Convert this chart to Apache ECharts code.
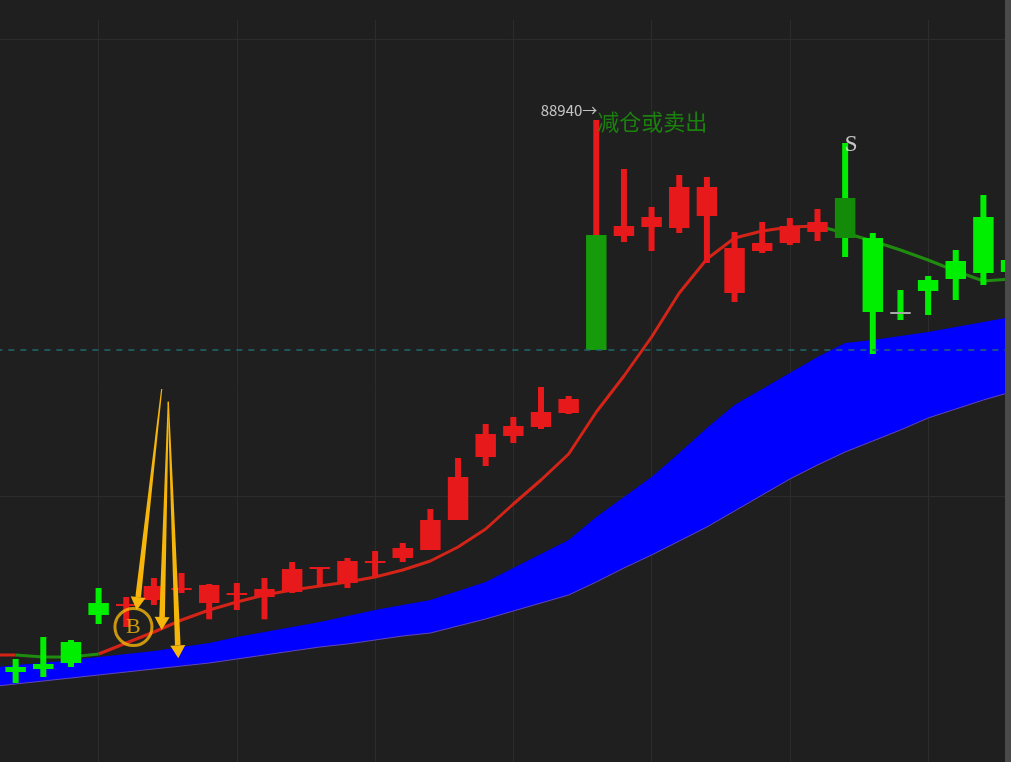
<!DOCTYPE html>
<html><head><meta charset="utf-8">
<script src="https://cdn.jsdelivr.net/npm/echarts@6/dist/echarts.min.js"></script>
<style>html,body{margin:0;padding:0;background:#1f1f1f;}#c{width:1011px;height:762px;}</style>
</head><body><div id="c"></div>
<script>
// ---- data (prices) ----
// visible candles, index 0..36
const opens  = [72530,72620,73280,74450,74360,74540,74840,74450,74690,74630,74780,75470,75050,75650,75800,76040,76940,78830,79460,79730,80150,82040,85460,85730,85700,86060,83750,85010,85250,85580,86600,85400,83150,84140,84710,86030,84740];
const closes = [72380,72470,72650,74090,74420,74960,74900,74990,74750,74870,75470,75530,75710,75710,76100,76940,78230,79520,79760,80180,80570,85490,85760,86030,86930,86930,85100,85250,85760,85880,85400,83180,83150,83810,84170,84350,84380];
const lows   = [72050,72230,72530,73820,73730,74390,74750,73960,74240,73960,74750,74990,74900,75260,75680,76040,76940,78560,79250,79670,80120,82040,85280,85010,85550,84650,83480,84950,85190,85310,84830,81920,82940,83090,83540,83990,83990];
const highs  = [72770,73430,73340,74900,74630,75200,75350,75020,75050,75200,75680,75530,75800,76010,76250,77270,78800,79820,80030,80930,80660,88940,87470,86330,87290,87230,85580,85880,86000,86270,88250,85550,83840,84260,85040,86690,84890];
// candle state: R = rising signal, G = falling, X = big signal bar, S = sell bar, D = doji
const states = ['G','G','G','G','R','R','R','R','R','R','R','R','R','R','R','R','R','R','R','R','R','X','R','R','R','R','R','R','R','R','S','G','D','G','G','G','G'];
// indicator lines, candle index -1..37
const trend     = [72890,72890,72830,72830,72920,73250,73580,73940,74240,74480,74690,74840,74960,75080,75230,75440,75710,76130,76670,77420,78140,78920,80180,81260,82430,83750,84770,85400,85610,85730,85760,85550,85310,85040,84740,84410,84110,84170,84200];
const trendGreenSegments = [[0,3],[29,37]]; // candle-index ranges where the trend line is green
const bandUpper = [72500,72590,72650,72740,72830,72920,73010,73130,73250,73430,73580,73730,73880,74060,74240,74390,74540,74810,75080,75500,75920,76340,77030,77630,78230,78950,79700,80390,80870,81350,81830,82250,82340,82460,82580,82730,82880,83030,83150];
const bandLower = [71930,72020,72110,72200,72290,72380,72470,72560,72650,72770,72890,73010,73130,73220,73340,73460,73550,73760,73970,74210,74450,74690,75080,75500,75890,76310,76730,77210,77690,78170,78590,78980,79310,79640,80000,80270,80540,80780,80990];
const alertLevel = 82040;
// annotations (x in candle-index units)
const buyMark = [4.26, 73730];
const arrows = [[5.282,80870,4.378,74240],[5.521,80490,5.282,73640],[5.521,80490,5.882,72790]];
const signalBar = 21, sellBar = 30;
const signalText = '减仓或卖出', sellText = 'S', buyText = 'B';

// ---- build ----
const PAD = 2; // hidden categories before first candle
const NCAT = 41;
const categories = Array.from({length: NCAT}, (_, k) => String(k - PAD));
function padLine(arr) { // arr covers candle index -1..37
  const out = new Array(NCAT).fill(null);
  arr.forEach((v, j) => { out[j + 1] = v; });
  return out;
}
const trendRed = padLine(trend.map((v, j) => {
  const i = j - 1;
  const inGreenInner = trendGreenSegments.some(([a, b]) => i > a && i < b);
  return inGreenInner ? null : v;
}));
const trendGreen = padLine(trend.map((v, j) => {
  const i = j - 1;
  return trendGreenSegments.some(([a, b]) => i >= a && i <= b) ? v : null;
}));
const lowerPad = padLine(bandLower);
const diffPad = padLine(bandUpper.map((v, j) => v - bandLower[j]));
const candleData = opens.map((o, j) => [j + PAD, o, closes[j], lows[j], highs[j]]);

const RED = '#e8191a', GREEN = '#00ee00';
const candleStyles = {
  R: {body: RED, wick: RED},
  G: {body: GREEN, wick: GREEN},
  X: {body: '#169c0a', wick: RED},
  S: {body: '#138a08', wick: GREEN},
  D: {body: '#a8a8a8', wick: GREEN}
};
const GOLD = '#f5b50a';

const chart = echarts.init(document.getElementById('c'), null, {renderer: 'canvas'});
chart.setOption({
  backgroundColor: '#1f1f1f',
  animation: false,
  grid: {left: -39.65, top: 20, width: 1106, height: 933, containLabel: false, outerBoundsMode: 'none'},
  xAxis: [
    {type: 'category', data: categories, boundaryGap: false,
     axisLine: {show: false}, axisTick: {show: false}, axisLabel: {show: false},
     splitLine: {show: true, interval: 4, lineStyle: {color: '#2c2c2c', width: 1}}},
    {type: 'value', min: -PAD, max: NCAT - 1 - PAD, show: false}
  ],
  yAxis: [
    {type: 'value', min: 63950, max: 91940, show: false},
    {type: 'value', min: 0, max: 2.04158, interval: 1,
     axisLine: {show: false}, axisTick: {show: false}, axisLabel: {show: false},
     splitLine: {show: true, showMaxLine: false, lineStyle: {color: '#2c2c2c', width: 1}}}
  ],
  graphic: [{type: 'rect', right: 0, top: 0, shape: {width: 6, height: 762}, style: {fill: '#4a4a4a'}, z: 100}],
  series: [
    {type: 'line', data: lowerPad, stack: 'band', symbol: 'none', z: 2,
     lineStyle: {color: '#6446b4', width: 1}, silent: true},
    {type: 'line', data: diffPad, stack: 'band', symbol: 'none', z: 1,
     lineStyle: {width: 0}, areaStyle: {color: '#0000ff', opacity: 1}, silent: true},
    {type: 'line', data: trendRed, symbol: 'none', z: 3,
     lineStyle: {color: '#d42418', width: 3}, silent: true},
    {type: 'line', data: trendGreen, symbol: 'none', z: 3,
     lineStyle: {color: '#1f8c10', width: 3}, silent: true,
     markLine: {symbol: 'none', silent: true, label: {show: false},
       lineStyle: {type: [6, 6], color: '#1f6b6e', width: 1.5},
       data: [{yAxis: alertLevel}]}},
    {type: 'custom', data: candleData, z: 4, encode: {x: 0, y: [1, 2, 3, 4]},
     renderItem: function (params, api) {
       const k = api.value(0);
       const pO = api.coord([k, api.value(1)]);
       const yC = api.coord([k, api.value(2)])[1];
       const yL = api.coord([k, api.value(3)])[1];
       const yH = api.coord([k, api.value(4)])[1];
       const x = pO[0], yO = pO[1];
       const band = api.size([1, 0])[0];
       const bw = band * 0.74, ww = 6;
       const st = candleStyles[states[params.dataIndex]];
       let top = Math.min(yO, yC), h = Math.abs(yO - yC);
       if (h < 2) { top = (yO + yC) / 2 - 1; h = 2; }
       return {type: 'group', children: [
         {type: 'rect', shape: {x: x - ww / 2, y: yH, width: ww, height: yL - yH}, style: {fill: st.wick}},
         {type: 'rect', shape: {x: x - bw / 2, y: top, width: bw, height: h}, style: {fill: st.body}}
       ]};
     }},
    {type: 'custom', data: arrows, xAxisIndex: 1, z: 6, encode: {x: [0, 2], y: [1, 3]},
     renderItem: function (params, api) {
       const s = api.coord([api.value(0), api.value(1)]);
       const e = api.coord([api.value(2), api.value(3)]);
       const dx = e[0] - s[0], dy = e[1] - s[1], L = Math.hypot(dx, dy);
       const ux = dx / L, uy = dy / L, nx = -uy, ny = ux;
       const headL = 13, headW = 7.5, w0 = 0.6, w1 = 2.8;
       const b = [e[0] - ux * headL, e[1] - uy * headL];
       return {type: 'group', children: [
         {type: 'polygon', shape: {points: [[s[0] + nx * w0, s[1] + ny * w0], [b[0] + nx * w1, b[1] + ny * w1], [b[0] - nx * w1, b[1] - ny * w1], [s[0] - nx * w0, s[1] - ny * w0]]}, style: {fill: GOLD}},
         {type: 'polygon', shape: {points: [[b[0] + nx * headW, b[1] + ny * headW], e, [b[0] - nx * headW, b[1] - ny * headW]]}, style: {fill: GOLD}}
       ]};
     }},
    {type: 'scatter', xAxisIndex: 1, data: [buyMark], z: 6, symbol: 'circle', symbolSize: 37, silent: true,
     itemStyle: {color: 'rgba(0,0,0,0)', borderColor: GOLD, borderWidth: 3},
     label: {show: true, position: 'inside', formatter: buyText, color: GOLD, fontSize: 22, fontFamily: 'Liberation Serif'}},
    {type: 'scatter', z: 7, symbol: 'circle', symbolSize: 1, silent: true,
     itemStyle: {color: 'rgba(0,0,0,0)'},
     data: [
       {value: [signalBar + PAD, highs[signalBar]], label: {show: true, position: 'inside', formatter: highs[signalBar] + '→', align: 'right', verticalAlign: 'middle', offset: [1, -10], color: '#ececec', fontSize: 15, fontFamily: 'Noto Sans CJK SC'}},
       {value: [signalBar + PAD, highs[signalBar]], label: {show: true, position: 'inside', formatter: signalText, align: 'left', verticalAlign: 'middle', offset: [1, 2], color: '#1a9a0a', fontSize: 22, fontFamily: 'Noto Sans CJK SC'}},
       {value: [sellBar + PAD, highs[sellBar]], label: {show: true, position: 'inside', formatter: sellText, align: 'center', verticalAlign: 'middle', offset: [6, 2], color: '#f0f0f0', fontSize: 23, fontFamily: 'Liberation Serif'}}
     ]}
  ]
});
</script></body></html>
